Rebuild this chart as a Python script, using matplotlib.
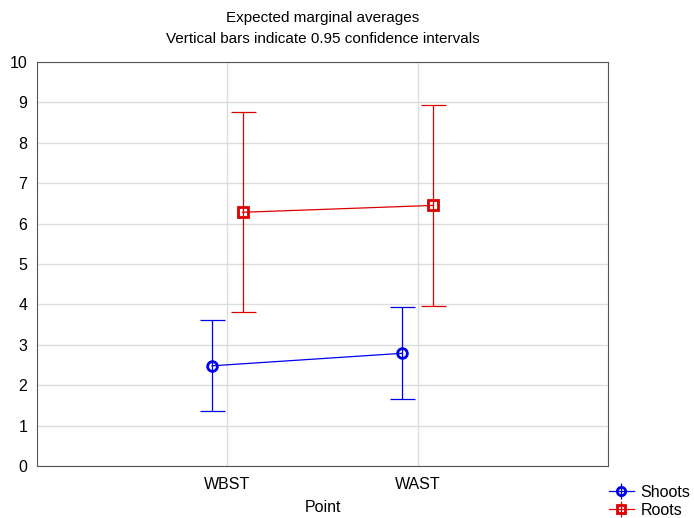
import matplotlib.pyplot as plt
import numpy as np

# data
points = ["WBST", "WAST"]
shoots_mean = [2.48, 2.79]
shoots_low = [1.35, 1.65]
shoots_high = [3.62, 3.93]
roots_mean = [6.28, 6.45]
roots_low = [3.80, 3.97]
roots_high = [8.77, 8.94]

plt.rcParams['font.family'] = ['Liberation Sans', 'DejaVu Sans']

fig = plt.figure(figsize=(6.94, 5.18), dpi=100)
ax = fig.add_axes([37 / 694, 1 - 466 / 518, 571 / 694, 404 / 518])

x = np.arange(1, len(points) + 1)
dx = 0.08

def draw(xs, mean, low, high, color, marker, label):
    mean = np.array(mean)
    err = [mean - np.array(low), np.array(high) - mean]
    ax.errorbar(xs, mean, yerr=err, fmt='none', ecolor=color, elinewidth=0.9,
                capsize=9, capthick=0.9, zorder=2)
    ax.plot(xs, mean, color=color, lw=0.9, marker=marker, mfc='none',
            mec=color, mew=2, ms=7, zorder=3)
    # legend proxy
    ax.errorbar([], [], yerr=[], color=color, marker=marker, mfc='none',
                mec=color, mew=2, ms=6, lw=0.9, capsize=6, label=label)

draw(x - dx, shoots_mean, shoots_low, shoots_high, '#0000ee', 'o', 'Shoots')
draw(x + dx, roots_mean, roots_low, roots_high, '#dd0000', 's', 'Roots')

ax.set_xlim(0, 3)
ax.set_ylim(0, 10)
ax.set_xticks(x)
ax.set_xticklabels(points)
ax.set_yticks(range(0, 11))
ax.grid(True, color='#dddddd', lw=1)
ax.set_axisbelow(True)
ax.tick_params(length=0, labelsize=11.5, pad=7)
ax.tick_params(axis='x', pad=8)
for s in ax.spines.values():
    s.set_color('#555555')
ax.set_xlabel("Point", fontsize=11.5, labelpad=6)

fig.text(0.5 * (37 + 608) / 694, 1 - 18 / 518, "Expected marginal averages",
         ha='center', va='center', fontsize=11)
fig.text(0.5 * (37 + 608) / 694, 1 - 39 / 518,
         "Vertical bars indicate 0.95 confidence intervals",
         ha='center', va='center', fontsize=11)

fig.legend(loc='upper right', bbox_to_anchor=(692 / 694, 1 - 483 / 518),
           frameon=False, fontsize=11.5, handlelength=1.6, handletextpad=0.4,
           borderpad=0.1, borderaxespad=0, labelspacing=0.2)

fig.savefig("out.png", dpi=100)
